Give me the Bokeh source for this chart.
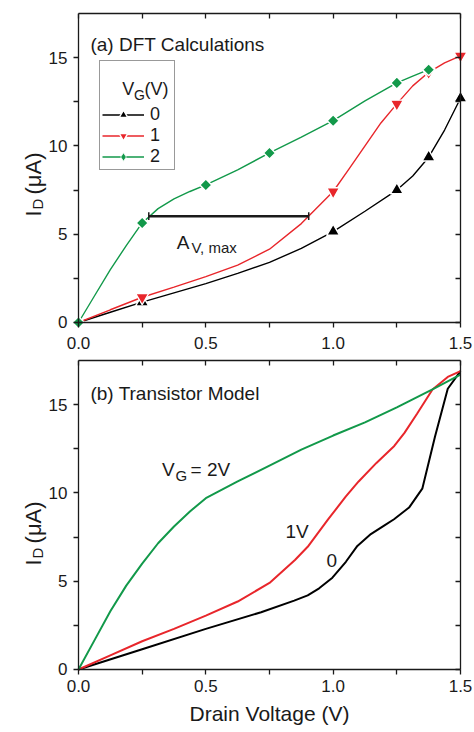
import numpy as np
from bokeh.plotting import figure
from bokeh.models import (Range1d, LinearAxis, FixedTicker, Label, Legend,
                          LegendItem, NumeralTickFormatter, CustomJSTickFormatter)
from bokeh.layouts import column
from bokeh.embed import file_html
from bokeh.resources import INLINE

# ---------------- data: (a) DFT calculations ----------------
# curve samples
dft_x_v0 = [0, 0.125, 0.25, 0.375, 0.5, 0.625, 0.75, 0.875, 1.0, 1.125, 1.25, 1.3125, 1.375, 1.4375, 1.5]
dft_i_v0 = [0, 0.58, 1.15, 1.68, 2.2, 2.78, 3.4, 4.2, 5.15, 6.3, 7.5, 8.3, 9.36, 10.9, 12.7]
dft_x_v1 = [0, 0.125, 0.25, 0.375, 0.5, 0.625, 0.75, 0.875, 1.0, 1.0625, 1.125, 1.1875, 1.25, 1.3125, 1.375, 1.4375, 1.5]
dft_i_v1 = [0, 0.72, 1.43, 2.0, 2.6, 3.25, 4.15, 5.6, 7.42, 8.7, 10.0, 11.3, 12.38, 13.4, 14.17, 14.7, 15.1]
dft_x_v2 = [0, 0.0625, 0.125, 0.1875, 0.25, 0.3125, 0.375, 0.4375, 0.5, 0.625, 0.75, 0.875, 1.0, 1.125, 1.25, 1.3125, 1.375]
dft_i_v2 = [0, 1.5, 3.0, 4.35, 5.64, 6.45, 7.0, 7.42, 7.79, 8.65, 9.6, 10.5, 11.43, 12.55, 13.57, 13.95, 14.32]
# calculated points (markers)
pts_x_v0 = [0.25, 1.0, 1.25, 1.375, 1.5]
pts_i_v0 = [1.15, 5.15, 7.5, 9.36, 12.7]
pts_x_v1 = [0.25, 1.0, 1.25, 1.375, 1.5]
pts_i_v1 = [1.43, 7.42, 12.38, 14.17, 15.1]
pts_x_v2 = [0, 0.25, 0.5, 0.75, 1.0, 1.25, 1.375]
pts_i_v2 = [0, 5.64, 7.79, 9.6, 11.43, 13.57, 14.32]
legend_labels = ["0", "1", "2"]
# A_V,max bar
av_x0, av_x1, av_y = 0.276, 0.904, 6.02

# ---------------- data: (b) transistor model ----------------
mod_x_v0 = [0, 0.25, 0.5, 0.717, 0.847, 0.9, 0.945, 0.997, 1.05, 1.095, 1.148, 1.2, 1.239, 1.298, 1.35, 1.4, 1.45, 1.5]
mod_i_v0 = [0, 1.15, 2.3, 3.24, 3.9, 4.2, 4.6, 5.2, 6.1, 7.0, 7.67, 8.15, 8.51, 9.17, 10.24, 13.2, 15.9, 16.9]
mod_x_v1 = [0, 0.125, 0.25, 0.375, 0.5, 0.625, 0.75, 0.85, 0.9, 0.98, 1.05, 1.1, 1.17, 1.24, 1.28, 1.33, 1.39, 1.45, 1.5]
mod_i_v1 = [0, 0.8, 1.6, 2.3, 3.05, 3.85, 4.9, 6.2, 6.95, 8.5, 9.8, 10.65, 11.7, 12.66, 13.4, 14.5, 15.86, 16.57, 16.9]
mod_x_v2 = [0, 0.0625, 0.125, 0.1875, 0.25, 0.3125, 0.375, 0.4375, 0.5, 0.625, 0.75, 0.875, 1.0, 1.125, 1.25, 1.39, 1.5]
mod_i_v2 = [0, 1.65, 3.3, 4.75, 6.0, 7.15, 8.1, 8.95, 9.7, 10.65, 11.55, 12.45, 13.25, 14.0, 14.85, 15.86, 16.7]

x_ticks = [0, 0.5, 1.0, 1.5]
x_minor = [0.25, 0.75, 1.25]
y_ticks = [0, 5, 10, 15]
y_minor = [2.5, 7.5, 12.5]

FONT = "Liberation Sans"
INK = "#1a1a1a"
BLACK = "#000000"
RED = "#e8262b"
GREEN = "#12994a"
X_MAX, Y_MAX = 1.5, 17.5
# the frame is widened on every side except the top, so that the axes
# (fixed at V=0, V=1.5, I=0) and all of their labels lie inside it
X_LEFT, X_RIGHT = -0.3063, 1.555


def style_axis(ax, ticks, minor, outward, labels, fmt, standoff=6):
    ax.ticker = FixedTicker(ticks=ticks, minor_ticks=minor)
    ax.axis_line_color = INK
    ax.axis_line_width = 1.3
    ax.major_tick_line_color = INK
    ax.minor_tick_line_color = INK
    ax.major_tick_line_width = 1.3
    ax.minor_tick_line_width = 1.3
    if outward:
        ax.major_tick_out, ax.major_tick_in = 5, 0
        ax.minor_tick_out, ax.minor_tick_in = 5, 0
    else:
        ax.major_tick_out, ax.major_tick_in = 0, 5
        ax.minor_tick_out, ax.minor_tick_in = 0, 5
    ax.major_label_text_font = FONT
    ax.major_label_text_color = INK
    ax.major_label_text_font_size = "17px"
    if labels:
        ax.formatter = NumeralTickFormatter(format=fmt)
        ax.major_label_standoff = standoff
    else:
        ax.formatter = CustomJSTickFormatter(code="return ''")
        ax.major_label_standoff = 0


def make_fig(h, bt, y_bot, xlab_standoff):
    p = figure(width=474, height=h, x_range=Range1d(X_LEFT, X_RIGHT), y_range=Range1d(y_bot, Y_MAX),
               output_backend="svg", toolbar_location=None, tools="",
               min_border_left=0, min_border_right=0, min_border_top=bt, min_border_bottom=0)
    p.xgrid.visible = False
    p.ygrid.visible = False
    p.outline_line_color = None
    p.background_fill_color = "white"
    p.border_fill_color = "white"
    bottom = p.below[0]
    left = p.left[0]
    left.fixed_location = 0
    left.bounds = (0, Y_MAX)
    bottom.fixed_location = 0
    bottom.bounds = (0, X_MAX)
    style_axis(bottom, x_ticks, x_minor, True, True, "0.0", xlab_standoff)
    style_axis(left, y_ticks, y_minor, True, True, "0", 6)
    top = LinearAxis(bounds=(0, X_MAX))
    style_axis(top, x_ticks, x_minor, False, False, "0.0")
    p.add_layout(top, "above")
    right = LinearAxis(bounds=(0, Y_MAX), fixed_location=X_MAX)
    style_axis(right, y_ticks, y_minor, False, False, "0")
    p.add_layout(right, "right")
    return p, bottom


def lab(p, x, y, text, size, angle=0.0):
    p.add_layout(Label(x=x, y=y, text=text, text_font=FONT, text_font_size=f"{size}px",
                       text_color=INK, angle=angle, text_align="left",
                       text_baseline="alphabetic"))


# ================= panel (a) =================
p1, _ = make_fig(354, 13, -1.813, 10)

l0 = p1.line(dft_x_v0, dft_i_v0, line_color=BLACK, line_width=1.4)
l1 = p1.line(dft_x_v1, dft_i_v1, line_color=RED, line_width=1.4)
l2 = p1.line(dft_x_v2, dft_i_v2, line_color=GREEN, line_width=1.4)
m0 = p1.scatter(pts_x_v0, pts_i_v0, marker="triangle", size=13, fill_color=BLACK,
                line_color="white", line_width=1.4)
m1 = p1.scatter(pts_x_v1, pts_i_v1, marker="inverted_triangle", size=13, fill_color=RED,
                line_color="white", line_width=1.4)
m2 = p1.scatter(pts_x_v2, pts_i_v2, marker="square", angle=np.pi / 4, size=8.5, fill_color=GREEN,
                line_color="white", line_width=1.4)
# diamond key for the legend only (drawn with zero size in the plot)
m2_key = p1.scatter(pts_x_v2[:1], pts_i_v2[:1], marker="diamond", size=0, fill_color=GREEN,
                    line_color="white", line_width=0.8)

# A_V,max bar with end caps
p1.segment(x0=[av_x0], y0=[av_y], x1=[av_x1], y1=[av_y], line_color=INK, line_width=2.5)
p1.segment(x0=[av_x0, av_x1], y0=[av_y - 0.22] * 2, x1=[av_x0, av_x1], y1=[av_y + 0.22] * 2,
           line_color=INK, line_width=1.5)

leg = Legend(items=[LegendItem(label=legend_labels[0], renderers=[l0, m0]),
                    LegendItem(label=legend_labels[1], renderers=[l1, m1]),
                    LegendItem(label=legend_labels[2], renderers=[l2, m2_key])],
             location=(99, 184), title=" ", title_text_font=FONT, title_text_font_size="18px",
             title_standoff=20, padding=2, spacing=0, margin=0,
             glyph_width=42, glyph_height=21, label_height=20, label_width=22, label_standoff=6,
             label_text_font=FONT, label_text_font_size="18px", label_text_color=INK,
             border_line_color="#333333", border_line_width=1.3,
             background_fill_alpha=0.0)
p1.add_layout(leg)

lab(p1, 0.047, 15.73, "(a) DFT Calculations", 19)
lab(p1, 0.1715, 13.24, "V", 18)
lab(p1, 0.218, 12.91, "G", 14)
lab(p1, 0.259, 13.24, "(V)", 18)
lab(p1, 0.3856, 4.55, "A", 19)
lab(p1, 0.4437, 4.25, "V, max", 15)
# y title  I_D (μA)
lab(p1, -0.1767, 6.00, "I", 22, np.pi / 2)
lab(p1, -0.161, 6.40, "D", 15, np.pi / 2)
lab(p1, -0.1767, 7.25, "(μA)", 22, np.pi / 2)

# ================= panel (b) =================
p2, xb = make_fig(376, 6, -3.455, 6)
xb.axis_label = "Drain Voltage (V)"
xb.axis_label_text_font = FONT
xb.axis_label_text_font_size = "21px"
xb.axis_label_text_font_style = "normal"
xb.axis_label_text_color = INK
xb.axis_label_standoff = 6

p2.line(mod_x_v0, mod_i_v0, line_color=BLACK, line_width=2)
p2.line(mod_x_v1, mod_i_v1, line_color=RED, line_width=2)
p2.line(mod_x_v2, mod_i_v2, line_color=GREEN, line_width=2)

lab(p2, 0.047, 15.63, "(b) Transistor Model", 19)
lab(p2, 0.328, 11.31, "V", 19)
lab(p2, 0.381, 10.99, "G", 15)
lab(p2, 0.44, 11.31, "= 2V", 19)
lab(p2, 0.813, 7.83, "1V", 19)
lab(p2, 0.974, 6.17, "0", 19)
lab(p2, -0.1767, 5.89, "I", 22, np.pi / 2)
lab(p2, -0.161, 6.29, "D", 15, np.pi / 2)
lab(p2, -0.1767, 7.14, "(μA)", 22, np.pi / 2)

layout = column(p1, p2)
open("out.html", "w").write(file_html(layout, INLINE))
